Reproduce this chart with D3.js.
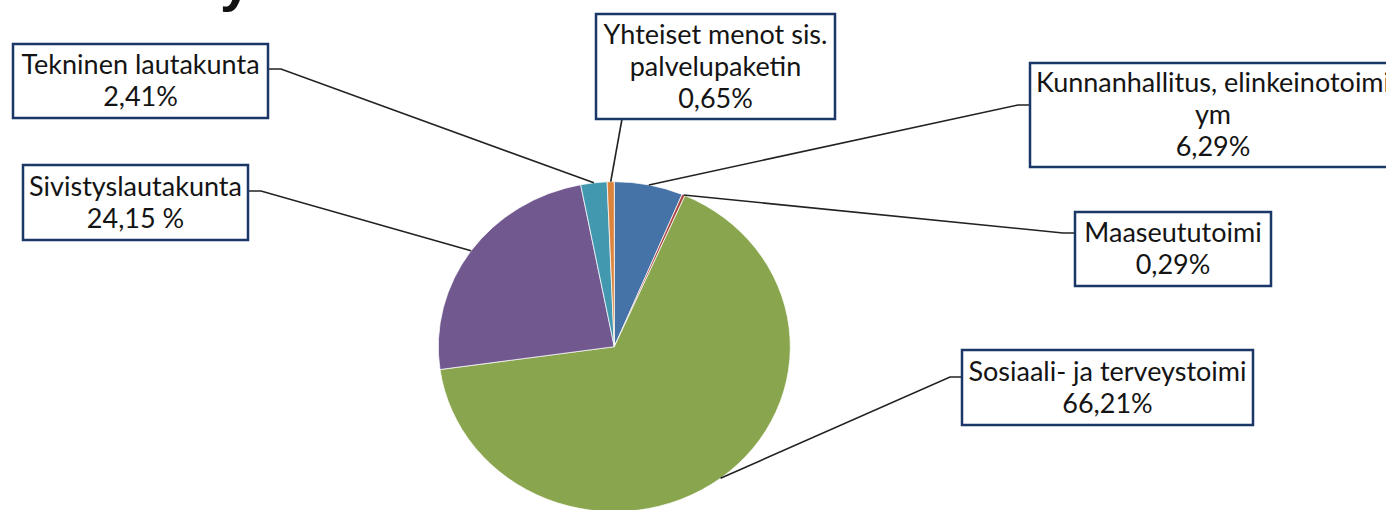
<!DOCTYPE html>
<html lang="fi">

<head>
  <meta charset="utf-8">
  <style>
    body { margin: 0; background: #fff; }
    svg { display: block; }
    .label text { font-family: Lato, "Open Sans", sans-serif; font-size: 27px; fill: #141414; }
  </style>
</head>

<body>
  <script src="https://cdn.jsdelivr.net/npm/d3@7/dist/d3.min.js"></script>
  <script>

  // data
  var categories = ["Kunnanhallitus, elinkeinotoimi ym", "Maaseututoimi", "Sosiaali- ja terveystoimi",
                    "Sivistyslautakunta", "Tekninen lautakunta", "Yhteiset menot sis. palvelupaketin"];
  var shares = [6.29, 0.29, 66.21, 24.15, 2.41, 0.65];
  var labelLines = [
    ["Kunnanhallitus, elinkeinotoimi", "ym", "6,29%"],
    ["Maaseututoimi", "0,29%"],
    ["Sosiaali- ja terveystoimi", "66,21%"],
    ["Sivistyslautakunta", "24,15 %"],
    ["Tekninen lautakunta", "2,41%"],
    ["Yhteiset menot sis.", "palvelupaketin", "0,65%"]
  ];
  var colors = ["#4572a7", "#aa4643", "#89a54e", "#71588f", "#4198af", "#db843d"];

  // label box layout: box + where the leader leaves it
  var boxes = [
    {x: 1030, y: 63, w: 366, h: 104, side: "left", sy: 105},
    {x: 1075, y: 212, w: 196, h: 74, side: "left", sy: 233},
    {x: 962, y: 350, w: 291, h: 75, side: "left", sy: 377},
    {x: 23, y: 165, w: 225, h: 75, side: "right", sy: 191},
    {x: 13, y: 44, w: 255, h: 74, side: "right", sy: 69},
    {x: 596, y: 14, w: 239, h: 105, side: "bottom", sx: 622}
  ];

  var width = 1386, height = 510;
  var cx = 614.3, cy = 346.7, rx = 176, ry = 165;
  var lineH = 32;

  var svg = d3.select("body").append("svg")
    .attr("width", width)
    .attr("height", height);

  // title is cut off at the top, only the tail of its "y" shows
  svg.append("text")
    .attr("x", 220)
    .attr("y", 0)
    .style("font-family", "'Liberation Sans', sans-serif")
    .style("font-weight", "bold")
    .style("font-size", "56px")
    .style("fill", "#111")
    .text("y");

  var pie = d3.pie().sort(null).value(function(d) { return d; });
  var arcs = pie(shares);

  var arc = d3.arc().innerRadius(0).outerRadius(ry);

  var pieG = svg.append("g")
    .attr("transform", "translate(" + cx + "," + cy + ") scale(" + (rx / ry) + ",1)");

  pieG.selectAll("path")
    .data(arcs)
    .enter().append("path")
    .attr("d", arc)
    .style("fill", function(d, i) { return colors[i]; })
    .style("stroke", "#fff")
    .style("stroke-width", 0.7);

  // leader lines
  function edgePoint(d) {
    var a = (d.startAngle + d.endAngle) / 2;
    return [cx + rx * Math.sin(a), cy - ry * Math.cos(a)];
  }

  arcs.forEach(function(d, i) {
    var b = boxes[i];
    var p = edgePoint(d);
    var pts;
    if (b.side == "left") pts = [[b.x, b.sy], [b.x - 12, b.sy], p];
    else if (b.side == "right") pts = [[b.x + b.w, b.sy], [b.x + b.w + 13, b.sy], p];
    else pts = [[b.sx, b.y + b.h], p];
    svg.append("path")
      .attr("d", d3.line()(pts))
      .style("fill", "none")
      .style("stroke", "#222")
      .style("stroke-width", 1.6);
  });

  // label boxes
  var label = svg.selectAll(".label")
    .data(arcs)
    .enter().append("g")
    .attr("class", "label");

  label.append("rect")
    .attr("x", function(d, i) { return boxes[i].x; })
    .attr("y", function(d, i) { return boxes[i].y; })
    .attr("width", function(d, i) { return boxes[i].w; })
    .attr("height", function(d, i) { return boxes[i].h; })
    .style("fill", "#fff")
    .style("stroke", "#1b3768")
    .style("stroke-width", 2.5);

  label.each(function(d, i) {
    var b = boxes[i];
    var lines = labelLines[i];
    var top = b.y + b.h / 2 - (lines.length - 1) * lineH / 2;
    d3.select(this).selectAll("text")
      .data(lines)
      .enter().append("text")
      .attr("x", b.x + b.w / 2)
      .attr("y", function(t, j) { return top + j * lineH; })
      .attr("dy", ".35em")
      .style("text-anchor", "middle")
      .text(function(t) { return t; });
  });

  </script>
</body>

</html>
